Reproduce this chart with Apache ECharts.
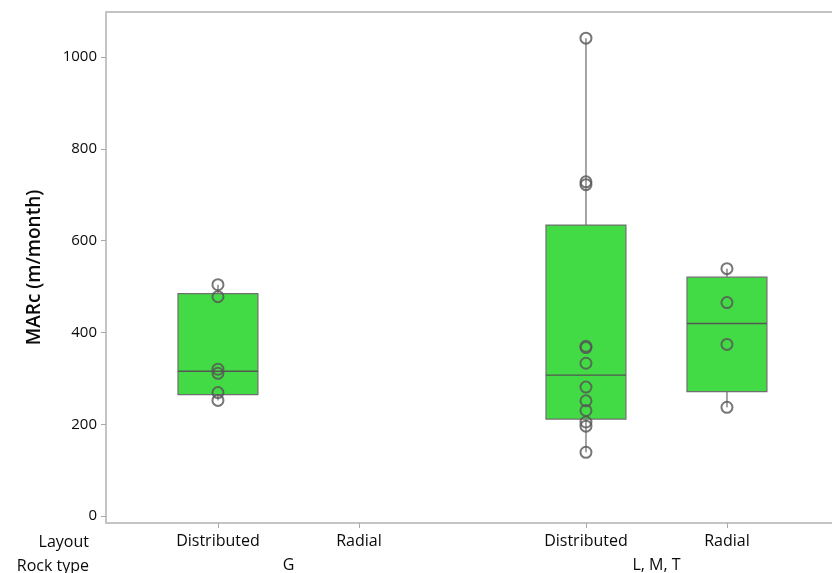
<!DOCTYPE html>
<html>
<head>
<meta charset="utf-8">
<script src="https://cdn.jsdelivr.net/npm/echarts@6/dist/echarts.min.js"></script>
<style>
  html, body { margin: 0; padding: 0; background: #ffffff; }
  #chart { width: 832px; height: 573px; }
</style>
</head>
<body>
<div id="chart"></div>
<script>
// Rock types (outer grouping) and layouts (inner grouping)
const rockTypes = ['G', 'L, M, T'];
const layouts = ['Distributed', 'Radial'];

// MARc observations (m/month) per rock type / layout
const gDistributed = [252, 269, 311, 320, 478, 504];
const gRadial = [];
const lmtDistributed = [139, 196, 205, 230, 251, 281, 333, 367, 370, 722, 728, 1041];
const lmtRadial = [237, 374, 465, 539];

// Y axis tick labels
const yTicks = [0, 200, 400, 600, 800, 1000];

const samples = [
  [gDistributed, gRadial],
  [lmtDistributed, lmtRadial]
];

// Horizontal placement: layouts one unit apart, rock type groups separated by a gap
const GROUP_STEP = 2.61;
const posOf = (g, l) => 1 + g * GROUP_STEP + l;

// Quartile estimate using the (n+1)p rule
function quantile(sorted, p) {
  const n = sorted.length;
  const h = (n + 1) * p;
  const lo = Math.floor(h);
  const frac = h - lo;
  if (lo < 1) return sorted[0];
  if (lo >= n) return sorted[n - 1];
  return sorted[lo - 1] + frac * (sorted[lo] - sorted[lo - 1]);
}

const boxData = [];
const pointData = [];
const layoutTickPos = [];
const layoutTickName = {};
const groupPos = [];
const groupName = {};

rockTypes.forEach((rt, g) => {
  layouts.forEach((lay, l) => {
    const x = posOf(g, l);
    layoutTickPos.push(x);
    layoutTickName[x.toFixed(3)] = lay;
    const vals = samples[g][l].slice().sort((a, b) => a - b);
    if (vals.length) {
      const q1 = quantile(vals, 0.25);
      const med = quantile(vals, 0.5);
      const q3 = quantile(vals, 0.75);
      const iqr = q3 - q1;
      const lowFence = q1 - 1.5 * iqr;
      const highFence = q3 + 1.5 * iqr;
      const inside = vals.filter(v => v >= lowFence && v <= highFence);
      boxData.push([x, inside[0], q1, med, q3, inside[inside.length - 1]]);
      vals.forEach(v => pointData.push([x, v]));
    }
  });
  const mid = (posOf(g, 0) + posOf(g, layouts.length - 1)) / 2;
  groupPos.push(mid);
  groupName[mid.toFixed(3)] = rt;
});

const BOX_WIDTH = 0.567;
const X_MIN = 0.206;
const X_MAX = 5.355;
const FONT = '"Open Sans", "Noto Sans", sans-serif';
const AXIS_GREY = '#c4c4c4';
const TEXT = '#0a0a0a';

function renderBox(params, api) {
  const x = api.value(0);
  const pMin = api.coord([x, api.value(1)]);
  const pQ1 = api.coord([x, api.value(2)]);
  const pMed = api.coord([x, api.value(3)]);
  const pQ3 = api.coord([x, api.value(4)]);
  const pMax = api.coord([x, api.value(5)]);
  const w = api.size([BOX_WIDTH, 0])[0];
  const cx = pMed[0];
  const left = cx - w / 2;
  const whisker = { stroke: '#a3a3a3', lineWidth: 2 };
  return {
    type: 'group',
    children: [
      { type: 'line', shape: { x1: cx, y1: pQ3[1], x2: cx, y2: pMax[1] }, style: whisker },
      { type: 'line', shape: { x1: cx, y1: pQ1[1], x2: cx, y2: pMin[1] }, style: whisker },
      {
        type: 'rect',
        shape: { x: left, y: pQ3[1], width: w, height: pQ1[1] - pQ3[1] },
        style: { fill: '#43db45', stroke: '#6f6f6f', lineWidth: 1.2 }
      },
      {
        type: 'line',
        shape: { x1: left, y1: pMed[1], x2: left + w, y2: pMed[1] },
        style: { stroke: '#555555', lineWidth: 1.4 }
      }
    ]
  };
}

const chart = echarts.init(document.getElementById('chart'), null, { renderer: 'canvas' });

const hiddenAxisParts = {
  axisTick: { show: false }, axisLabel: { show: false }, splitLine: { show: false }
};

chart.setOption({
  animation: false,
  backgroundColor: '#ffffff',
  grid: { left: 106, top: 12, right: 0, bottom: 49, show: false },
  xAxis: [
    {
      type: 'value', min: X_MIN, max: X_MAX, position: 'bottom',
      axisLine: { show: true, onZero: false, lineStyle: { color: AXIS_GREY, width: 2 } },
      axisTick: { show: true, customValues: layoutTickPos, length: 5, lineStyle: { color: '#a8a8a8' } },
      axisLabel: {
        customValues: layoutTickPos, margin: 10,
        fontFamily: FONT, fontSize: 16, color: TEXT,
        formatter: v => layoutTickName[Number(v).toFixed(3)] || ''
      },
      splitLine: { show: false }
    },
    {
      type: 'value', min: X_MIN, max: X_MAX, position: 'bottom', offset: 24,
      axisLine: { show: false, onZero: false }, axisTick: { show: false },
      axisLabel: {
        customValues: groupPos, margin: 10,
        fontFamily: FONT, fontSize: 16, color: TEXT,
        formatter: v => groupName[Number(v).toFixed(3)] || ''
      },
      splitLine: { show: false }
    },
    Object.assign({
      type: 'value', min: X_MIN, max: X_MAX, position: 'top',
      axisLine: { show: true, onZero: false, lineStyle: { color: AXIS_GREY, width: 2 } }
    }, hiddenAxisParts)
  ],
  yAxis: {
    type: 'value', min: -15, max: 1098,
    name: 'MARc (m/month)', nameLocation: 'middle', nameGap: 62,
    nameTextStyle: { fontFamily: FONT, fontSize: 19, color: TEXT, fontWeight: 600 },
    axisLine: { show: true, onZero: false, lineStyle: { color: AXIS_GREY, width: 2 } },
    axisTick: { show: true, customValues: yTicks, length: 5, lineStyle: { color: '#a8a8a8' } },
    axisLabel: {
      customValues: yTicks, margin: 9, fontFamily: FONT, fontSize: 15, color: TEXT,
      formatter: v => String(v)
    },
    splitLine: { show: false }
  },
  graphic: [
    { type: 'text', x: 89, y: 542, style: { text: 'Layout', font: '16px ' + FONT, fill: TEXT, align: 'right', verticalAlign: 'middle' } },
    { type: 'text', x: 89, y: 566, style: { text: 'Rock type', font: '16px ' + FONT, fill: TEXT, align: 'right', verticalAlign: 'middle' } }
  ],
  series: [
    {
      type: 'custom',
      renderItem: renderBox,
      data: boxData,
      encode: { x: 0, y: [1, 2, 3, 4, 5] },
      z: 2
    },
    {
      type: 'scatter',
      data: pointData,
      symbol: 'circle',
      symbolSize: 11,
      itemStyle: { color: 'transparent', borderColor: '#555555', borderWidth: 2 },
      z: 3
    }
  ]
});
</script>
</body>
</html>
